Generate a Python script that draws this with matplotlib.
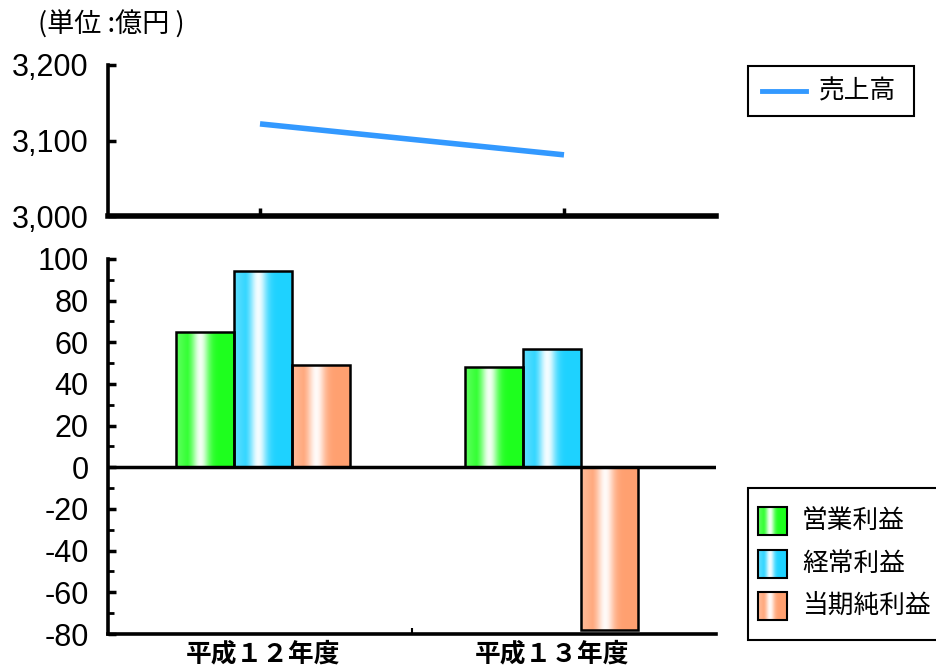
import numpy as np
import matplotlib
matplotlib.use("Agg")
import matplotlib.pyplot as plt
from matplotlib.ticker import FuncFormatter, MultipleLocator, FixedLocator
from matplotlib.patches import Rectangle
from matplotlib.lines import Line2D
from matplotlib.colors import to_rgb

plt.rcParams['font.family'] = ['Liberation Sans', 'Noto Sans CJK JP', 'DejaVu Sans']
plt.rcParams['axes.unicode_minus'] = False
JP = ['Noto Sans CJK JP', 'DejaVu Sans']

# データ
years = ['平成１２年度', '平成１３年度']
sales = [3122, 3081]                      # 売上高（億円）
profit_names = ['営業利益', '経常利益', '当期純利益']
operating = [65, 48]
ordinary = [94, 57]
net = [49, -78]
profit_colors = ['#1eff1e', '#1ed2ff', '#ffa070']
sales_color = '#3399ff'

W, H = 936, 671
fig = plt.figure(figsize=(W / 100, H / 100), dpi=100)


def fx(px):
    return px / W


def fy(py):
    return 1 - py / H


def gradient_image(color, n=200):
    base = np.array(to_rgb(color))
    t = np.linspace(0, 1, n)
    w = np.exp(-((t - 0.42) / 0.15) ** 2) * 0.95
    w = np.maximum(w, 0.3 * np.clip(1 - t / 0.3, 0, 1))
    img = base[None, :] * (1 - w[:, None]) + w[:, None]
    return img[None, :, :]


def shade_bar(ax, rect, color):
    x0, y0 = rect.get_x(), rect.get_y()
    w, h = rect.get_width(), rect.get_height()
    im = ax.imshow(gradient_image(color), extent=(x0, x0 + w, min(y0, y0 + h), max(y0, y0 + h)),
                   aspect='auto', interpolation='bilinear', zorder=2)
    im.set_clip_path(rect)


x = np.arange(len(years)) + 0.5
# 棒グループの中心（区間内でやや寄せて配置）
bar_x = x + np.array([0.01, -0.04])

# ---- 売上高（上段） ----
ax1 = fig.add_axes([fx(108), fy(216), fx(716 - 108), (216 - 65) / H])
ax1.plot(x, sales, color=sales_color, lw=4, solid_capstyle='butt', zorder=3)
ax1.set_xlim(0, 2)
ax1.set_ylim(3000, 3200)
ax1.set_yticks([3000, 3100, 3200])
ax1.yaxis.set_major_formatter(FuncFormatter(lambda v, p: f'{v:,.0f}'))
ax1.set_xticks(x)
ax1.set_xticklabels([])
for s in ['top', 'right']:
    ax1.spines[s].set_visible(False)
ax1.spines['left'].set_linewidth(2.6)
ax1.spines['bottom'].set_linewidth(4)
ax1.tick_params(axis='y', direction='in', length=6, width=2.5, labelsize=22, pad=14)
ax1.tick_params(axis='x', direction='in', length=6, width=2.5)
ax1.patch.set_alpha(0)

# ---- 利益（下段） ----
ax2 = fig.add_axes([fx(108), fy(634), fx(716 - 108), (634 - 259) / H])
bw = 0.19
series = [operating, ordinary, net]
for i, (vals, col) in enumerate(zip(series, profit_colors)):
    bars = ax2.bar(bar_x + (i - 1) * bw, vals, width=bw, facecolor='none',
                   edgecolor='black', linewidth=1.8, zorder=3)
    for r in bars:
        shade_bar(ax2, r, col)
ax2.axhline(0, color='black', lw=2.5, zorder=4)
ax2.set_xlim(0, 2)
ax2.set_ylim(-80, 100)
ax2.yaxis.set_major_locator(MultipleLocator(20))
ax2.yaxis.set_minor_locator(MultipleLocator(10))
ax2.set_xticks(bar_x)
ax2.set_xticklabels(years, fontfamily=JP, fontweight='bold', fontsize=18.5)
ax2.xaxis.set_minor_locator(FixedLocator([1.0]))
for s in ['top', 'right']:
    ax2.spines[s].set_visible(False)
ax2.spines['left'].set_linewidth(2.6)
ax2.spines['bottom'].set_linewidth(2.6)
ax2.tick_params(axis='y', which='major', direction='in', length=6, width=2.5, labelsize=22, pad=14)
ax2.tick_params(axis='y', which='minor', direction='in', length=4, width=2)
ax2.tick_params(axis='x', which='major', length=0, pad=5)
ax2.tick_params(axis='x', which='minor', direction='in', length=4, width=1.5)
ax2.patch.set_alpha(0)

# 単位
fig.text(fx(38), fy(25), '(単位 :億円 )', fontfamily=JP, fontsize=19.5, va='center', ha='left')

# ---- 凡例 ----
lg = fig.add_axes([0, 0, 1, 1], zorder=10)
lg.set_xlim(0, W)
lg.set_ylim(H, 0)
lg.axis('off')
lg.patch.set_alpha(0)

lg.add_patch(Rectangle((748, 66), 166, 50, facecolor='white', edgecolor='black', lw=1.5))
lg.add_line(Line2D([762, 806], [91, 91], color=sales_color, lw=3.5))
lg.text(819, 91, '売上高', fontfamily=JP, fontsize=18.5, va='center', ha='left')

lg.add_patch(Rectangle((748, 488), 200, 152, facecolor='white', edgecolor='black', lw=1.5, clip_on=False))
rows = [521, 564, 606]
for name, col, yc in zip(profit_names, profit_colors, rows):
    r = Rectangle((758, yc - 14), 29, 28, facecolor='none', edgecolor='black', lw=1.5, zorder=3)
    lg.add_patch(r)
    im = lg.imshow(gradient_image(col), extent=(758, 787, yc + 14, yc - 14),
                   aspect='auto', interpolation='bilinear', zorder=2)
    im.set_clip_path(r)
    lg.text(802, yc, name, fontfamily=JP, fontsize=18.5, va='center', ha='left')
lg.set_xlim(0, W)
lg.set_ylim(H, 0)

fig.savefig('out.png', dpi=100)
